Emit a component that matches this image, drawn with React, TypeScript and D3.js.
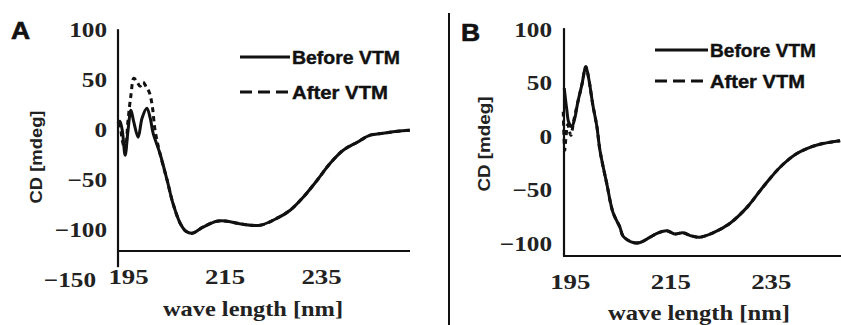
import React from "react";
import * as d3 from "d3";

// ---------- data ----------
const waveA_before = [192.8, 193.2, 193.7, 194.3, 194.9, 195.5, 196.1, 197.0, 197.8, 198.8, 199.5, 200.1, 201.5, 203.0, 204.2, 205.7, 206.9, 208.2, 210.4, 213.3, 215.4, 218.7, 222.3, 225.8, 228.5, 231.2, 234.1, 236.8, 239.5, 242.4, 245.1, 247.8, 250.7, 253.3];
const cdA_before = [6, 8, -1, -26, -1, 19, 7, -8, 11, 21, 11, -4, -24, -51, -74, -94, -102, -104, -98, -92, -92, -95, -96, -89, -81, -68, -51, -34, -21, -13, -6, -4, -2, -1];

const waveA_after = [192.8, 193.2, 193.7, 194.3, 194.9, 195.5, 196.1, 196.8, 197.4, 198.0, 198.6, 199.3, 199.9, 200.5, 201.5, 203.0, 204.2, 205.7, 206.9, 208.2, 210.4, 213.3, 215.4, 218.7, 222.3, 225.8, 228.5, 231.2, 234.1, 236.8, 239.5, 242.4, 245.1, 247.8, 250.7, 253.3];
const cdA_after = [6, 4, -11, -21, 9, 34, 51, 47, 43, 47, 43, 37, 24, -1, -24, -51, -74, -94, -102, -104, -98, -92, -92, -95, -96, -89, -81, -68, -51, -34, -21, -13, -6, -4, -2, -1];

const waveB_before = [193.8, 194.3, 194.7, 195.3, 195.9, 196.5, 197.3, 198.1, 198.7, 199.5, 200.3, 200.9, 202.3, 203.5, 204.9, 205.5, 207.5, 208.9, 210.9, 212.5, 214.2, 215.8, 217.4, 219.2, 220.8, 223.4, 226.8, 230.2, 233.4, 236.7, 240.1, 244.1, 248.7];
const cdB_before = [45, 25, 13, 9, 17, 32, 48, 65, 53, 29, 9, -13, -45, -71, -85, -93, -99, -99, -94, -90, -88, -91, -90, -93, -94, -90, -81, -66, -47, -29, -16, -8, -4];

const waveB_after = [193.6, 193.9, 194.1, 194.5, 195.1, 195.7, 196.5, 197.3, 198.1, 198.7, 199.5, 200.3, 200.9, 202.3, 203.5, 204.9, 205.5, 207.5, 208.9, 210.9, 212.5, 214.2, 215.8, 217.4, 219.2, 220.8, 223.4, 226.8, 230.2, 233.4, 236.7, 240.1, 244.1, 248.7];
const cdB_after = [23, -13, -3, 11, 1, 15, 32, 48, 65, 53, 29, 9, -13, -45, -71, -85, -93, -99, -99, -94, -90, -88, -91, -90, -93, -94, -90, -81, -66, -47, -29, -16, -8, -4];

const xTicks = [195, 215, 235];
const yTicksA = [100, 50, 0, -50, -100, -150];
const yTicksB = [100, 50, 0, -50, -100];
const seriesNames = ["Before VTM", "After VTM"];
const panelLetters = ["A", "B"];
const xTitle = "wave length [nm]";
const yTitle = "CD [mdeg]";

const SERIF = "'Liberation Serif', 'DejaVu Serif', serif";
const SANS = "'Liberation Sans', Arial, sans-serif";

type PanelCfg = {
  letter: string;
  letterX: number;
  letterY: number;
  xDomain: [number, number];
  xRange: [number, number];
  yDomain: [number, number];
  yRange: [number, number];
  yAxisBottom: number;
  yTicks: number[];
  yLabelRight: number;
  xLabelBaseline: number;
  xTitleX: number;
  xTitleY: number;
  xTitleLen: number;
  yTitleX: number;
  yTitleY: number;
  yTitleLen: number;
  legX0: number;
  legX1: number;
  legY1: number;
  legY2: number;
  legLen1: number;
  legLen2: number;
  before: [number[], number[]];
  after: [number[], number[]];
};

function Panel({ c }: { c: PanelCfg }) {
  const x = d3.scaleLinear().domain(c.xDomain).range(c.xRange);
  const y = d3.scaleLinear().domain(c.yDomain).range(c.yRange);
  const line = d3
    .line<[number, number]>()
    .x((d) => x(d[0]))
    .y((d) => y(d[1]))
    .curve(d3.curveCatmullRom.alpha(0.5));
  const toPts = (s: [number[], number[]]) => s[0].map((w, i) => [w, s[1][i]] as [number, number]);
  const axisY = y(c.yDomain[1]);
  return (
    <g>
      <g transform={`translate(${c.letterX},${c.letterY}) scale(1.15,1)`}>
        <text fontFamily={SANS} fontWeight="bold" fontSize={23} fill="#111" stroke="#111" strokeWidth={0.6}>
          {c.letter}
        </text>
      </g>
      {/* axes */}
      <line x1={c.xRange[0]} x2={c.xRange[0]} y1={y(c.yDomain[0])} y2={y(c.yAxisBottom)} stroke="#111" strokeWidth={2.2} />
      <line x1={c.xRange[0] - 1} x2={c.xRange[1]} y1={axisY} y2={axisY} stroke="#111" strokeWidth={2.2} />
      {/* y tick labels */}
      {c.yTicks.map((t) => {
        const below = t < c.yDomain[1];
        const rx = below ? c.yLabelRight - 11 : c.yLabelRight;
        return (
          <g key={t} transform={`translate(${rx},${y(t) + 7.5}) scale(1.2,1)`}>
            <text textAnchor="end" fontFamily={SERIF} fontWeight="bold" fontSize={21} fill="#222">
              {t < 0 ? "\u2212" + Math.abs(t) : String(t)}
            </text>
          </g>
        );
      })}
      {/* x tick labels */}
      {xTicks.map((t) => (
        <g key={t} transform={`translate(${x(t)},${c.xLabelBaseline}) scale(1.22,1)`}>
          <text textAnchor="middle" fontFamily={SERIF} fontWeight="bold" fontSize={22} fill="#222">
            {t}
          </text>
        </g>
      ))}
      {/* axis titles */}
      <text
        x={c.xTitleX}
        y={c.xTitleY}
        textAnchor="middle"
        fontFamily={SERIF}
        fontWeight="bold"
        fontSize={21}
        textLength={c.xTitleLen}
        lengthAdjust="spacingAndGlyphs"
        fill="#222"
      >
        {xTitle}
      </text>
      <text
        transform={`translate(${c.yTitleX},${c.yTitleY}) rotate(-90)`}
        textAnchor="middle"
        dy="0.35em"
        fontFamily={SANS}
        fontWeight="bold"
        fontSize={16}
        textLength={c.yTitleLen}
        lengthAdjust="spacingAndGlyphs"
        fill="#222"
      >
        {yTitle}
      </text>
      {/* data */}
      <path d={line(toPts(c.before)) || ""} fill="none" stroke="#111" strokeWidth={3} strokeLinejoin="round" />
      <path d={line(toPts(c.after)) || ""} fill="none" stroke="#111" strokeWidth={3} strokeDasharray="5,4" />
      {/* legend */}
      <line x1={c.legX0} x2={c.legX1} y1={c.legY1} y2={c.legY1} stroke="#111" strokeWidth={3} />
      <line x1={c.legX0} x2={c.legX1} y1={c.legY2} y2={c.legY2} stroke="#111" strokeWidth={3} strokeDasharray="12,6" />
      <text x={c.legX1 + 2} y={c.legY1 + 6.5} fontFamily={SANS} fontWeight="bold" fontSize={18} textLength={c.legLen1} lengthAdjust="spacingAndGlyphs" fill="#111" stroke="#111" strokeWidth={0.4}>
        {seriesNames[0]}
      </text>
      <text x={c.legX1 + 2} y={c.legY2 + 6.5} fontFamily={SANS} fontWeight="bold" fontSize={18} textLength={c.legLen2} lengthAdjust="spacingAndGlyphs" fill="#111" stroke="#111" strokeWidth={0.4}>
        {seriesNames[1]}
      </text>
    </g>
  );
}

export default function App() {
  const A: PanelCfg = {
    letter: panelLetters[0],
    letterX: 11,
    letterY: 39,
    xDomain: [192.82, 253.34],
    xRange: [118, 410],
    yDomain: [100, -121.8],
    yRange: [29.2, 251],
    yAxisBottom: -138,
    yTicks: yTicksA,
    yLabelRight: 107,
    xLabelBaseline: 284,
    xTitleX: 253,
    xTitleY: 316,
    xTitleLen: 180,
    yTitleX: 36,
    yTitleY: 157,
    yTitleLen: 93,
    legX0: 240,
    legX1: 290,
    legY1: 57,
    legY2: 92,
    legLen1: 108,
    legLen2: 96,
    before: [waveA_before, cdA_before],
    after: [waveA_after, cdA_after],
  };
  const B: PanelCfg = {
    letter: panelLetters[1],
    letterX: 461,
    letterY: 41,
    xDomain: [193.75, 248.87],
    xRange: [564, 841],
    yDomain: [101, -111.6],
    yRange: [28.1, 256],
    yAxisBottom: -111.6,
    yTicks: yTicksB,
    yLabelRight: 552,
    xLabelBaseline: 289,
    xTitleX: 699,
    xTitleY: 320,
    xTitleLen: 182,
    yTitleX: 484,
    yTitleY: 144,
    yTitleLen: 95,
    legX0: 655,
    legX1: 708,
    legY1: 50,
    legY2: 81,
    legLen1: 106,
    legLen2: 95,
    before: [waveB_before, cdB_before],
    after: [waveB_after, cdB_after],
  };
  return (
    <svg
      width={841}
      height={325}
      style={{ position: "absolute", left: 0, top: 0, background: "#fff" }}
    >
      <rect width={841} height={325} fill="#fff" />
      <line x1={449} x2={449} y1={13} y2={325} stroke="#111" strokeWidth={2} />
      <Panel c={A} />
      <Panel c={B} />
    </svg>
  );
}
